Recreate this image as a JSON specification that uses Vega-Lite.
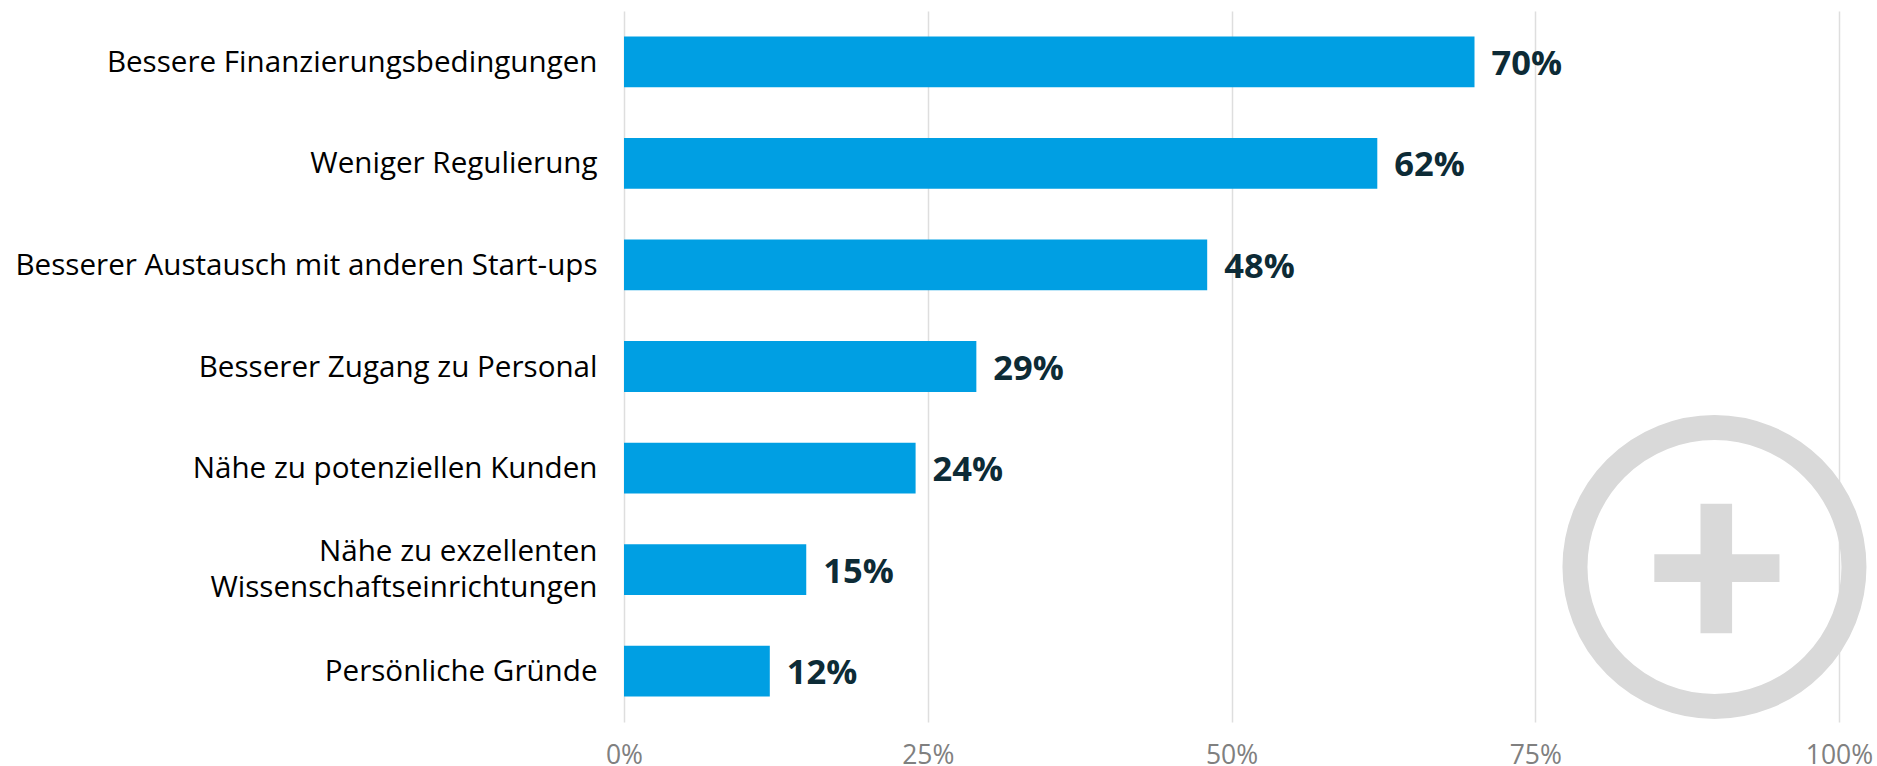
{
"$schema":"https://vega.github.io/schema/vega-lite/v6.json",
"width":1215,"height":711,
"autosize":{"type":"none"},
"padding":{"left":624,"top":11,"right":38,"bottom":44},
"background":"#ffffff",
"config":{"view":{"stroke":null},"font":"Open Sans"},
"data":{"values":[
{"grund":"Bessere Finanzierungsbedingungen","anteil":70,"etikett":"70%"},
{"grund":"Weniger Regulierung","anteil":62,"etikett":"62%"},
{"grund":"Besserer Austausch mit anderen Start-ups","anteil":48,"etikett":"48%"},
{"grund":"Besserer Zugang zu Personal","anteil":29,"etikett":"29%"},
{"grund":"Nähe zu potenziellen Kunden","anteil":24,"etikett":"24%"},
{"grund":"Nähe zu exzellenten|Wissenschaftseinrichtungen","anteil":15,"etikett":"15%"},
{"grund":"Persönliche Gründe","anteil":12,"etikett":"12%"}
]},
"layer":[
{"layer":[
{"mark":{"type":"bar","color":"#009fe3"},
 "encoding":{
  "y":{"field":"grund","type":"nominal","sort":null,"title":null,
   "scale":{"paddingInner":0.5,"paddingOuter":0.25},
   "axis":{"domain":false,"ticks":false,"labelPadding":27,"labelFont":"Open Sans","labelFontSize":29.6,"labelColor":"#000000","labelLimit":640,"labelLineHeight":36,"labelOffset":{"expr":"indexof(datum.value,'|')>0?-18:1"},"labelExpr":"split(datum.value,'|')"}},
  "x":{"field":"anteil","type":"quantitative","title":null,
   "scale":{"domain":[0,100]},
   "axis":{"values":[0,25,50,75,100],"domain":false,"ticks":false,"grid":true,"gridColor":"#dedede","gridWidth":1.5,"labelFlush":false,"labelFontSize":26.5,"labelColor":"#808080","labelBaseline":"alphabetic","labelPadding":41,"labelExpr":"datum.value+'%'"}}
 }},
{"mark":{"type":"text","align":"left","dx":17,"dy":3,"fontSize":34.5,"fontWeight":"bold","color":"#0d2b36"},
 "encoding":{
  "y":{"field":"grund","type":"nominal","sort":null},
  "x":{"field":"anteil","type":"quantitative"},
  "text":{"field":"etikett","type":"nominal"}
 }}
]},
{"data":{"values":[{}]},
 "layer":[
 {"mark":{"type":"point","shape":"circle","filled":false,"stroke":"#d9d9d9","strokeWidth":25,"size":77841,"opacity":1},
  "encoding":{"x":{"datum":89.75,"type":"quantitative"},"y":{"datum":78.2,"type":"quantitative","scale":{"domain":[0,100],"reverse":true},"axis":null}}},
 {"mark":{"type":"rect","color":"#d9d9d9"},
  "encoding":{"x":{"datum":84.8,"type":"quantitative"},"x2":{"datum":95.1},"y":{"datum":76.4,"type":"quantitative","scale":{"domain":[0,100],"reverse":true},"axis":null},"y2":{"datum":80.3}}},
 {"mark":{"type":"rect","color":"#d9d9d9"},
  "encoding":{"x":{"datum":88.6,"type":"quantitative"},"x2":{"datum":91.2},"y":{"datum":69.3,"type":"quantitative","scale":{"domain":[0,100],"reverse":true},"axis":null},"y2":{"datum":87.5}}}
 ]}
],
"resolve":{"scale":{"y":"independent"}}
}
